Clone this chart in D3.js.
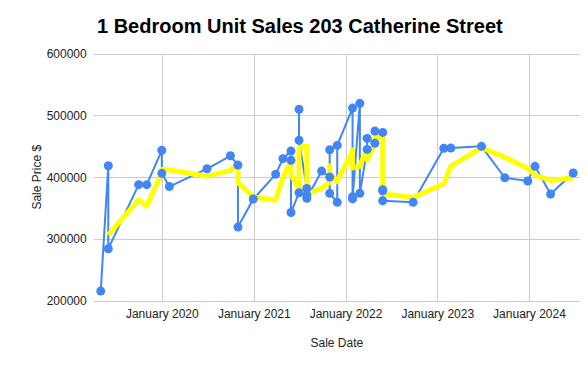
<!DOCTYPE html>
<html>
<head>
<meta charset="utf-8">
<script src="https://cdn.jsdelivr.net/npm/d3@7"></script>
<style>
  html, body { margin: 0; padding: 0; background: #fff; }
  svg { display: block; font-family: "Liberation Sans", Arial, sans-serif; }
</style>
</head>
<body>
<svg id="chart" width="588" height="366"></svg>
<script>
const chartTitle = "1 Bedroom Unit Sales 203 Catherine Street";
const xAxisTitle = "Sale Date";
const yAxisTitle = "Sale Price $";

const saleDates = [
  "2019-05-03","2019-06-02","2019-06-02","2019-10-01","2019-11-02","2020-01-01","2020-01-01","2020-01-31",
  "2020-06-29","2020-09-30","2020-10-30","2020-10-30","2020-12-30","2021-03-29","2021-04-27","2021-05-29",
  "2021-05-29","2021-05-29","2021-06-30","2021-06-30","2021-06-30","2021-07-31","2021-07-31","2021-07-31",
  "2021-09-28","2021-10-30","2021-10-30","2021-10-30","2021-11-29","2021-11-29","2022-01-29","2022-01-29",
  "2022-01-29","2022-02-27","2022-02-27","2022-03-28","2022-03-28","2022-04-28","2022-04-28","2022-05-29",
  "2022-05-29","2022-05-29","2022-05-29","2022-09-27","2023-01-27","2023-02-24","2023-06-26","2023-09-27",
  "2023-12-27","2024-01-25","2024-03-27","2024-06-25"
];
const salePrices = [
  216000,418600,284500,388000,388000,443500,406300,385000,
  413700,434700,419700,319500,364800,404700,430000,442300,
  427300,343000,375000,509700,459600,382000,371000,366000,
  410000,400300,444400,374000,359500,451500,511800,368500,
  365000,519400,374000,445000,462800,454800,474600,472500,
  378200,380000,362000,359500,446700,447200,450000,399200,
  393900,417600,372800,406800
];
const movingAverage = [
  null,null,306400,363700,353500,406500,412600,411600,
  401700,411100,422700,391300,368000,363000,399800,425700,
  433200,404200,381800,409200,448100,450400,404200,373000,
  382300,392100,418200,406200,392600,395000,440900,443900,
  415100,417600,419500,446100,427300,454200,464100,467300,
  441800,410200,373400,367200,389400,417800,448000,432100,
  414400,403600,394800,399100
];
const yTicks = [200000, 300000, 400000, 500000, 600000];
const xDomain = ["2019-04-05", "2024-07-22"];

const parse = d3.utcParse("%Y-%m-%d");
const rows = saleDates.map((d, i) => ({ date: parse(d), price: salePrices[i], avg: movingAverage[i] }));

const svg = d3.select("#chart");
const plotL = 93.7, plotR = 580, plotT = 53.5, plotB = 301;

const x = d3.scaleUtc().domain(xDomain.map(parse)).range([plotL, plotR]);
const y = d3.scaleLinear().domain([200000, 600000]).range([plotB, plotT]);

// horizontal gridlines + y labels
const yAxis = d3.axisLeft(y).tickValues(yTicks).tickSize(-(plotR - plotL)).tickPadding(7).tickFormat(d3.format("d"));
const gy = svg.append("g").attr("transform", `translate(${plotL},0)`).call(yAxis);
gy.select(".domain").remove();
gy.selectAll("line").attr("stroke", "#cccccc").attr("stroke-width", 1).attr("shape-rendering", "crispEdges");
gy.selectAll("text").attr("font-size", 12).attr("fill", "#222").attr("font-family", "Liberation Sans, Arial, sans-serif");

// vertical gridlines + x labels
const xTickDates = d3.utcYear.range(parse("2020-01-01"), parse("2024-01-02"));
const xAxis = d3.axisBottom(x).tickValues(xTickDates).tickSize(-(plotB - plotT)).tickPadding(8)
  .tickFormat(d3.utcFormat("January %Y"));
const gx = svg.append("g").attr("transform", `translate(0,${plotB})`).call(xAxis);
gx.select(".domain").remove();
gx.selectAll("line").attr("stroke", "#cccccc").attr("stroke-width", 1).attr("shape-rendering", "crispEdges");
gx.selectAll("text").attr("font-size", 12).attr("fill", "#222").attr("font-family", "Liberation Sans, Arial, sans-serif");

// series
const priceLine = d3.line().x(d => x(d.date)).y(d => y(d.price));
svg.append("path").datum(rows).attr("d", priceLine)
  .attr("fill", "none").attr("stroke", "#4285f4").attr("stroke-width", 2).attr("stroke-linejoin", "round");

const avgLine = d3.line().defined(d => d.avg != null).x(d => x(d.date)).y(d => y(d.avg));
svg.append("path").datum(rows).attr("d", avgLine)
  .attr("fill", "none").attr("stroke", "#ffff00").attr("stroke-width", 5).attr("stroke-linejoin", "round");

svg.append("g").selectAll("circle").data(rows).join("circle")
  .attr("cx", d => x(d.date)).attr("cy", d => y(d.price)).attr("r", 4.5).attr("fill", "#4285f4");

// titles
svg.append("text").attr("x", 97).attr("y", 33).attr("font-size", 20).attr("font-weight", "bold")
  .attr("fill", "#000").text(chartTitle);
svg.append("text").attr("x", (plotL + plotR) / 2).attr("y", 347).attr("text-anchor", "middle")
  .attr("font-size", 12).attr("fill", "#222").text(xAxisTitle);
svg.append("text").attr("transform", `translate(41,${(plotT + plotB) / 2}) rotate(-90)`).attr("text-anchor", "middle")
  .attr("font-size", 12).attr("fill", "#222").text(yAxisTitle);
</script>
</body>
</html>
